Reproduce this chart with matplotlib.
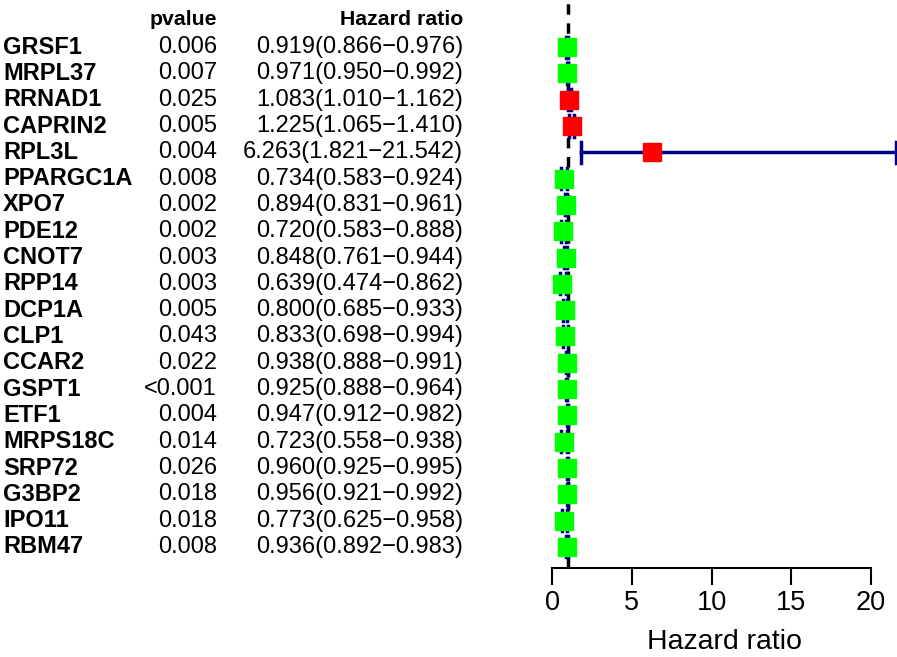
import matplotlib
matplotlib.use("Agg")
import matplotlib.pyplot as plt

genes = ["GRSF1", "MRPL37", "RRNAD1", "CAPRIN2", "RPL3L", "PPARGC1A", "XPO7", "PDE12",
         "CNOT7", "RPP14", "DCP1A", "CLP1", "CCAR2", "GSPT1", "ETF1", "MRPS18C", "SRP72",
         "G3BP2", "IPO11", "RBM47"]
pvalues = ["0.006", "0.007", "0.025", "0.005", "0.004", "0.008", "0.002", "0.002", "0.003",
           "0.003", "0.005", "0.043", "0.022", "<0.001", "0.004", "0.014", "0.026", "0.018",
           "0.018", "0.008"]
hr = [0.919, 0.971, 1.083, 1.225, 6.263, 0.734, 0.894, 0.720, 0.848, 0.639, 0.800, 0.833,
      0.938, 0.925, 0.947, 0.723, 0.960, 0.956, 0.773, 0.936]
low = [0.866, 0.950, 1.010, 1.065, 1.821, 0.583, 0.831, 0.583, 0.761, 0.474, 0.685, 0.698,
       0.888, 0.888, 0.912, 0.558, 0.925, 0.921, 0.625, 0.892]
high = [0.976, 0.992, 1.162, 1.410, 21.542, 0.924, 0.961, 0.888, 0.944, 0.862, 0.933, 0.994,
        0.991, 0.964, 0.982, 0.938, 0.995, 0.992, 0.958, 0.983]
xticks = [0, 5, 10, 15, 20]

plt.rcParams['font.family'] = ['Liberation Sans', 'DejaVu Sans']

W, H = 897, 657
fig = plt.figure(figsize=(W / 100, H / 100), dpi=100)

n = len(genes)
ys = [n - i for i in range(n)]
ylim = (0.2, 21.79)

# forest axes
x0_px, px_per_unit = 552, 15.95
ax = fig.add_axes([x0_px / W, (H - 568) / H, (W - x0_px) / W, 568 / H])
ax.set_xlim(0, (W - x0_px) / px_per_unit)
ax.set_ylim(*ylim)
for s in ["top", "right", "left"]:
    ax.spines[s].set_visible(False)
ax.spines["bottom"].set_bounds(0, 20)
ax.spines["bottom"].set_linewidth(1.5)
ax.set_yticks([])
ax.set_xticks(xticks)
ax.tick_params(axis="x", length=12, width=1.5, labelsize=19.5, pad=4)
ax.set_xlabel("Hazard ratio", fontsize=20.5, labelpad=9)

ax.axvline(1, color="black", lw=2.5, ls=(0, (3, 2.5)), zorder=1)
for y, h, lo, hi in zip(ys, hr, low, high):
    ax.plot([lo, hi], [y, y], color="#00008B", lw=2.5, clip_on=False, zorder=2)
    for e in (lo, hi):
        ax.plot([e, e], [y - 0.4, y + 0.4], color="#00008B", lw=2.5, clip_on=False, zorder=2)
    col = "#FF0000" if h > 1 else "#00FF00"
    ax.plot([h], [y], marker="s", ms=12.5, color=col, mec=col, ls="none", zorder=3, clip_on=False)

# text table axes
tx = fig.add_axes([0, (H - 568) / H, 540 / W, 568 / H])
tx.set_xlim(0, 540)
tx.set_ylim(*ylim)
tx.axis("off")
fs = 17
hfs = 15.3
hy = n + 1.03
tx.text(217, hy, "pvalue", ha="right", va="center", fontsize=hfs, fontweight="bold")
tx.text(463, hy, "Hazard ratio", ha="right", va="center", fontsize=hfs, fontweight="bold")
for y, g, p, h, lo, hi in zip(ys, genes, pvalues, hr, low, high):
    tx.text(3, y, g, ha="left", va="center", fontsize=fs, fontweight="bold")
    tx.text(217, y, p, ha="right", va="center", fontsize=fs)
    tx.text(463, y, f"{h:.3f}({lo:.3f}\u2212{hi:.3f})", ha="right", va="center", fontsize=fs)

fig.savefig("out.png", dpi=100)
